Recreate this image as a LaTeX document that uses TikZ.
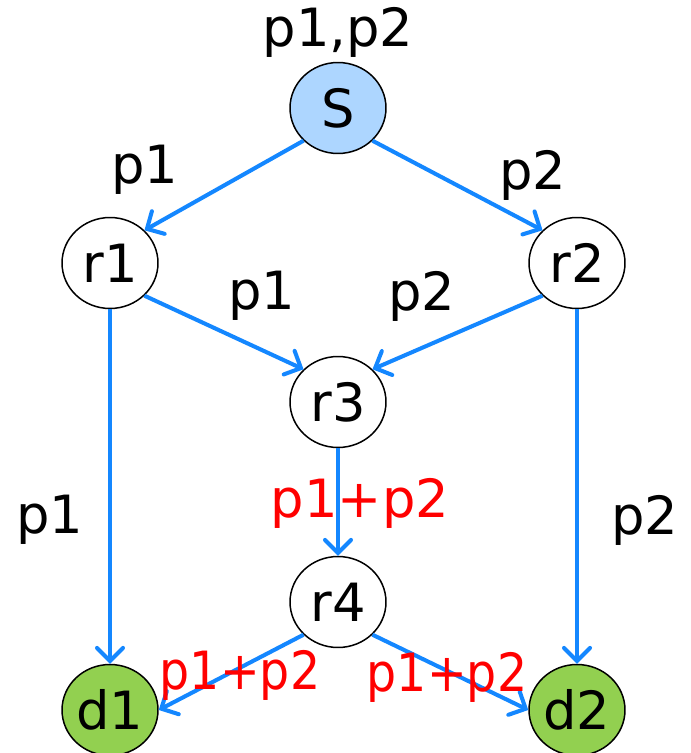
\documentclass[tikz,border=0pt]{standalone}
\usepackage{fontspec}
\setmainfont{DejaVu Sans}
\usetikzlibrary{arrows.meta,shapes.geometric}
\definecolor{flowblue}{RGB}{20,135,255}
\definecolor{srcfill}{RGB}{173,214,255}
\definecolor{dstfill}{RGB}{146,208,80}
\tikzset{
  rnode/.style={draw,ellipse,line width=0.85pt,minimum width=19.2mm,minimum height=18.2mm,inner sep=0pt,font=\fontsize{30}{33}\selectfont},
  srcnode/.style={rnode,fill=srcfill},
  dstnode/.style={rnode,fill=dstfill},
  flow/.style={flowblue,line width=2.3pt,-{Straight Barb[length=2.6mm,width=5.2mm,line cap=round]}},
  plab/.style={font=\fontsize{30}{33}\selectfont},
  mixlab/.style={plab,red},
}
\newcommand{\narrow}[1]{\scalebox{0.9}[1]{#1}}
\begin{document}
\begin{tikzpicture}[x=0.02cm,y=-0.02cm]
\useasboundingbox (0,0) rectangle (690,753);
% ---- routers, source and sinks
\node[srcnode] (S) at (338,108) {S};
\node[rnode] (r1) at (110,263) {r1};
\node[rnode] (r2) at (577,263) {r2};
\node[rnode] (r3) at (338,402) {r3};
\node[rnode] (r4) at (338,602) {r4};
\node[dstnode] (d1) at (110,710) {d1};
\node[dstnode] (d2) at (577,710) {d2};
% ---- flows
\draw[flow] (S.south west) -- (r1.north east);
\draw[flow] (S.south east) -- (r2.north west);
\draw[flow] (r1.south east) -- (r3.north west);
\draw[flow] (r2.south west) -- (r3.north east);
\draw[flow] (r1) -- (d1);
\draw[flow] (r2) -- (d2);
\draw[flow] (r3) -- (r4);
\draw[flow] (r4.south west) -- (d1.east);
\draw[flow] (r4.south east) -- (d2.west);
% ---- packet labels
\node[plab] (lS) at (338,32) {p1,p2};
\node[plab] (lSa) at (145,170) {p1};
\node[plab] (lSb) at (533,175) {p2};
\node[plab] (l13) at (262,296) {p1};
\node[plab] (l23) at (422,296) {p2};
\node[plab] (l1d) at (50,520) {p1};
\node[plab] (l2d) at (645,520) {p2};
\node[mixlab] (l34) at (360,503) {p1+p2};
\node[mixlab] (l4a) at (240,675) {\narrow{p1+p2}};
\node[mixlab] (l4b) at (447,677) {\narrow{p1+p2}};
\end{tikzpicture}
\end{document}
